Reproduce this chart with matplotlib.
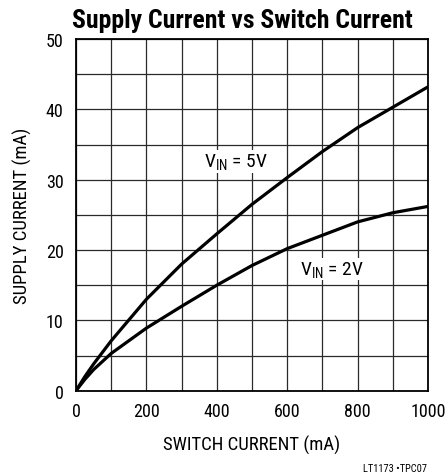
import matplotlib
matplotlib.use('Agg')
import matplotlib.pyplot as plt
from matplotlib.ticker import MultipleLocator

# switch current (mA) and supply current (mA)
switch_ma = [0, 25, 50, 100, 200, 300, 400, 500, 600, 700, 800, 900, 1000]
vin_5v = [0, 2.0, 3.8, 7.1, 13.0, 18.0, 22.3, 26.5, 30.3, 34.0, 37.4, 40.3, 43.2]
vin_2v = [0, 1.6, 3.0, 5.3, 8.9, 12.0, 15.0, 17.8, 20.2, 22.1, 24.0, 25.3, 26.2]

xticks = [0, 200, 400, 600, 800, 1000]
yticks = [0, 10, 20, 30, 40, 50]

fam = ['Roboto Condensed', 'Archivo Narrow', 'DejaVu Sans']
plt.rcParams['font.family'] = fam
plt.rcParams['mathtext.fontset'] = 'custom'
plt.rcParams['mathtext.rm'] = 'Roboto Condensed'
plt.rcParams['mathtext.it'] = 'Roboto Condensed'

fig = plt.figure(figsize=(4.45, 4.77), dpi=100)
ax = fig.add_axes([0.1708, 0.1788, 0.7910, 0.7373])

ax.plot(switch_ma, vin_5v, color='black', lw=2.3, zorder=3)
ax.plot(switch_ma, vin_2v, color='black', lw=2.3, zorder=3)

ax.set_xlim(0, 1000)
ax.set_ylim(0, 50)
ax.set_xticks(xticks)
ax.set_yticks(yticks)
ax.xaxis.set_minor_locator(MultipleLocator(100))
ax.yaxis.set_minor_locator(MultipleLocator(5))
ax.grid(True, which='both', color='#2a2a2a', lw=0.9)
ax.tick_params(which='both', length=0)
ax.tick_params(axis='x', labelsize=13, pad=8)
ax.tick_params(axis='y', labelsize=13, pad=9)
for s in ax.spines.values():
    s.set_linewidth(1.3)

ax.text(455, 32.6, r'V$_{\mathrm{IN}}$ = 5V', fontsize=14, ha='center', va='center',
        bbox=dict(facecolor='white', edgecolor='none', pad=1), zorder=2)
ax.text(726, 17.3, r'V$_{\mathrm{IN}}$ = 2V', fontsize=14, ha='center', va='center',
        bbox=dict(facecolor='white', edgecolor='none', pad=1), zorder=2)

ax.set_xlabel('SWITCH CURRENT (mA)', fontsize=13.5, labelpad=11)
ax.set_ylabel('SUPPLY CURRENT (mA)', fontsize=13.5, labelpad=10)

fig.text(0.545, 0.956, 'Supply Current vs Switch Current', fontsize=18.5,
         fontweight='bold', ha='center', va='center')
fig.text(0.959, 0.017, 'LT1173 \u2022TPC07', fontsize=7.5, ha='right', va='center')

fig.savefig('out.png', dpi=100)
